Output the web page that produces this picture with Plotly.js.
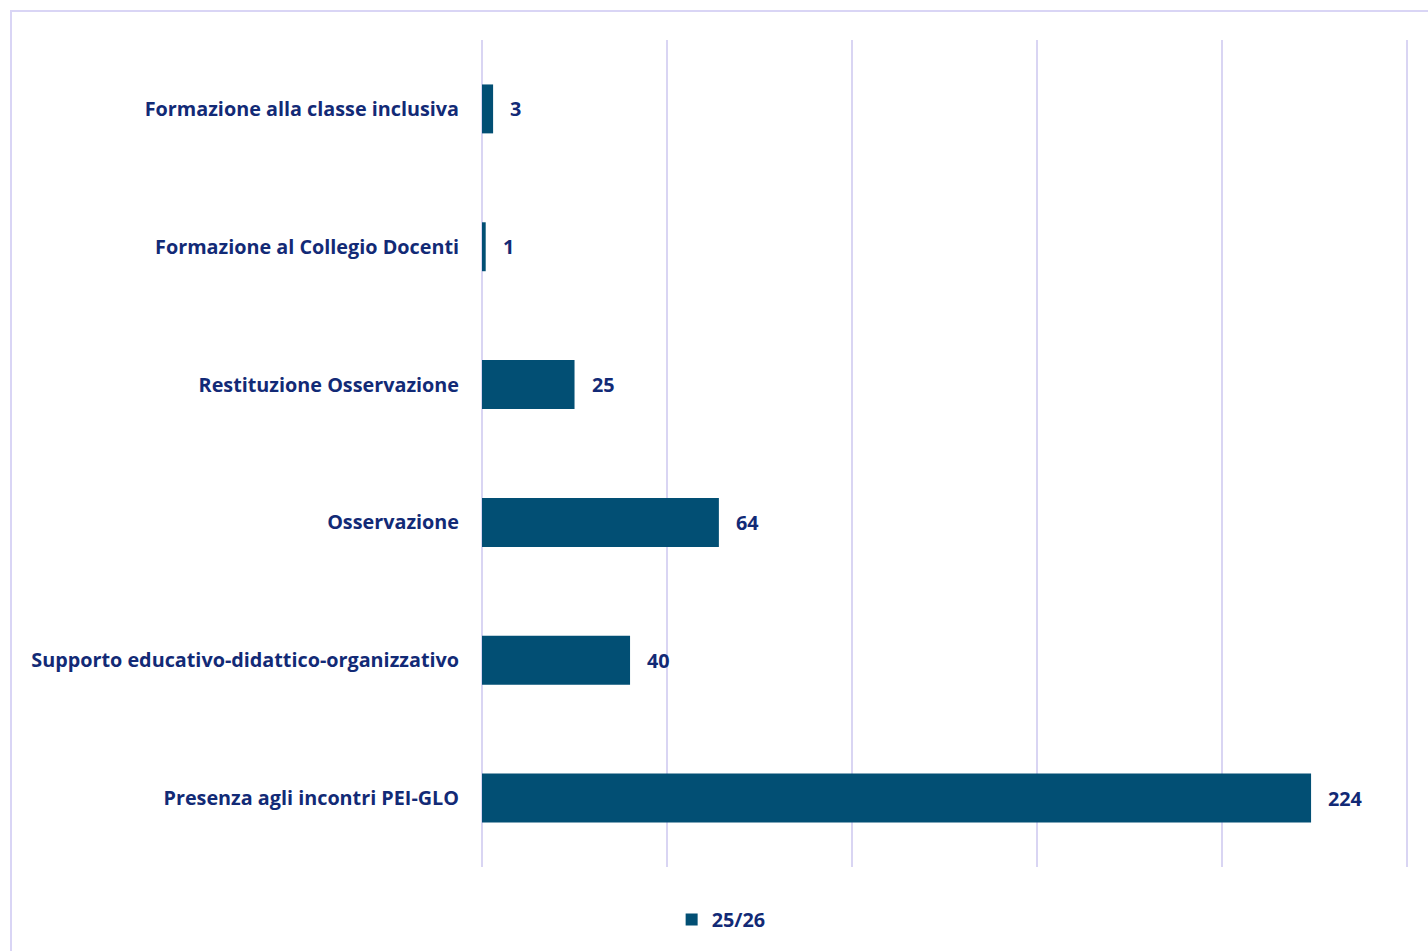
<!DOCTYPE html>
<html>
<head>
<meta charset="utf-8">
<script src="https://cdn.plot.ly/plotly-3.0.1.min.js"></script>
<style>
  html, body { margin: 0; padding: 0; background: #ffffff; overflow: hidden; }
  #frame { position: absolute; left: 10px; top: 10px; width: 1430px; height: 960px; border: 2px solid #d9d5f5; box-sizing: border-box; }
  #chart { position: absolute; left: 0; top: 0; width: 1428px; height: 951px; }
</style>
</head>
<body>
<div id="frame"></div>
<div id="chart"></div>
<script>
const categories = [
  "Formazione alla classe inclusiva",
  "Formazione al Collegio Docenti",
  "Restituzione Osservazione",
  "Osservazione",
  "Supporto educativo-didattico-organizzativo",
  "Presenza agli incontri PEI-GLO"
];
const values = [3, 1, 25, 64, 40, 224];
const seriesName = "25/26";

const textColor = "#122a76";
const barColor = "#024f74";
const fontFamily = "'Open Sans', Lato, sans-serif";
const fontSize = 19.8;

const trace = {
  type: "bar",
  orientation: "h",
  y: categories,
  x: values,
  name: seriesName,
  marker: { color: barColor },
  hoverinfo: "x+y"
};

const annotations = values.map((v, i) => ({
  x: v, y: categories[i], xref: "x", yref: "y",
  text: String(v), showarrow: false,
  xanchor: "left", xshift: 15,
  font: { family: fontFamily, size: fontSize, color: textColor, weight: "bold" }
}));

const layout = {
  width: 1428, height: 951,
  margin: { l: 482, r: 17, t: 40, b: 84 },
  paper_bgcolor: "rgba(0,0,0,0)",
  plot_bgcolor: "rgba(0,0,0,0)",
  bargap: 0.645,
  showlegend: true,
  legend: {
    orientation: "h",
    xref: "container", yref: "container",
    x: 0.505, xanchor: "center",
    y: 0.033, yanchor: "middle",
    font: { family: fontFamily, size: fontSize, color: textColor, weight: "bold" }
  },
  xaxis: {
    range: [0, 251], tick0: 0, dtick: 50,
    showgrid: true, gridcolor: "#d9d5f3", gridwidth: 2,
    zeroline: true, zerolinecolor: "#d9d5f3", zerolinewidth: 2,
    showticklabels: false, showline: false, ticks: ""
  },
  yaxis: {
    autorange: "reversed",
    showgrid: false, zeroline: false, showline: false,
    ticks: "outside", ticklen: 18, tickcolor: "rgba(0,0,0,0)",
    tickfont: { family: fontFamily, size: fontSize, color: textColor, weight: "bold" }
  },
  annotations: annotations
};

Plotly.newPlot("chart", [trace], layout, { displayModeBar: false, staticPlot: true });
</script>
</body>
</html>
